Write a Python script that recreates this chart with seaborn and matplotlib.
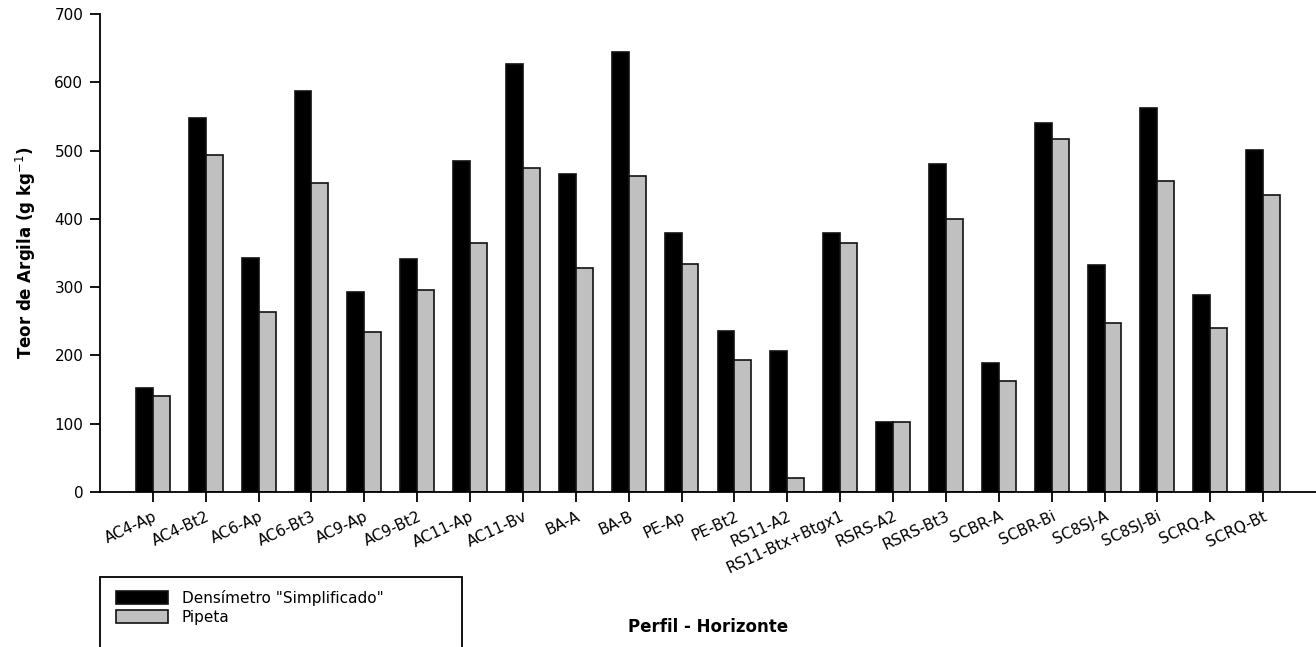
import matplotlib
matplotlib.use("Agg")
import matplotlib.pyplot as plt
import seaborn as sns
import pandas as pd
from matplotlib.patches import Rectangle

categories = ["AC4-Ap", "AC4-Bt2", "AC6-Ap", "AC6-Bt3", "AC9-Ap", "AC9-Bt2",
              "AC11-Ap", "AC11-Bv", "BA-A", "BA-B", "PE-Ap", "PE-Bt2",
              "RS11-A2", "RS11-Btx+Btgx1", "RSRS-A2", "RSRS-Bt3", "SCBR-A",
              "SCBR-Bi", "SC8SJ-A", "SC8SJ-Bi", "SCRQ-A", "SCRQ-Bt"]
densimetro = [153, 547, 343, 587, 293, 341, 485, 627, 465, 644, 380, 236,
              206, 380, 103, 481, 189, 541, 333, 562, 289, 501]
pipeta = [140, 493, 263, 452, 235, 296, 364, 475, 328, 463, 334, 193,
          20, 364, 103, 400, 162, 517, 248, 455, 240, 435]
series_names = ['Densímetro "Simplificado"', "Pipeta"]
yticks = [0, 100, 200, 300, 400, 500, 600, 700]

df = pd.DataFrame({
    "cat": categories * 2,
    "val": densimetro + pipeta,
    "serie": [series_names[0]] * len(categories) + [series_names[1]] * len(categories),
})

sns.set_theme(style="white")
plt.rcParams["font.family"] = ["DejaVu Sans"]
plt.rcParams["text.color"] = "black"
plt.rcParams["axes.labelcolor"] = "black"

fig = plt.figure(figsize=(13.16, 6.47), dpi=100)
ax = fig.add_axes([100 / 1316, 1 - 492 / 647, 1 - 100 / 1316, 478 / 647])

sns.barplot(data=df, x="cat", y="val", hue="serie", order=categories,
            hue_order=series_names, palette=["#000000", "#c0c0c0"],
            width=0.64, edgecolor="#111111", linewidth=1.2, saturation=1,
            ax=ax, legend=True)

ax.set_xlim(-1, 22)
ax.set_ylim(0, 700)
ax.set_yticks(yticks)
ax.set_yticklabels([str(v) for v in yticks], fontsize=11)
ax.set_xticks(range(len(categories)))
ax.set_xticklabels(categories, rotation=25, ha="right", rotation_mode="anchor",
                   fontsize=11)

for s in ["top", "right"]:
    ax.spines[s].set_visible(False)
for s in ["left", "bottom"]:
    ax.spines[s].set_color("black")
    ax.spines[s].set_linewidth(1.3)
ax.tick_params(axis="both", direction="out", length=7, width=1.3, color="black",
               labelcolor="black", bottom=True, left=True, pad=5)

ax.set_xlabel("")
ax.set_ylabel("Teor de Argila (g kg$^{-1}$)", fontsize=12, fontweight="bold",
              labelpad=12, color="black")
fig.text(708 / 1316, 1 - 627 / 647, "Perfil - Horizonte", fontsize=12,
         fontweight="bold", ha="center", va="center", color="black")

handles, labels = ax.get_legend_handles_labels()
ax.get_legend().remove()
leg = fig.legend(handles, labels, loc="upper left",
                 bbox_to_anchor=(116 / 1316, 1 - 590 / 647), frameon=False,
                 fontsize=11, handlelength=3.4, handleheight=0.9, handletextpad=0.9,
                 labelspacing=0.25, borderaxespad=0, borderpad=0)
for t in leg.get_texts():
    t.set_color("black")
fig.patches.append(Rectangle((100 / 1316, -0.05), 362 / 1316, 0.05 + 1 - 577 / 647,
                             transform=fig.transFigure, fill=False,
                             edgecolor="black", linewidth=1.3))

fig.savefig("out.png", dpi=100)
